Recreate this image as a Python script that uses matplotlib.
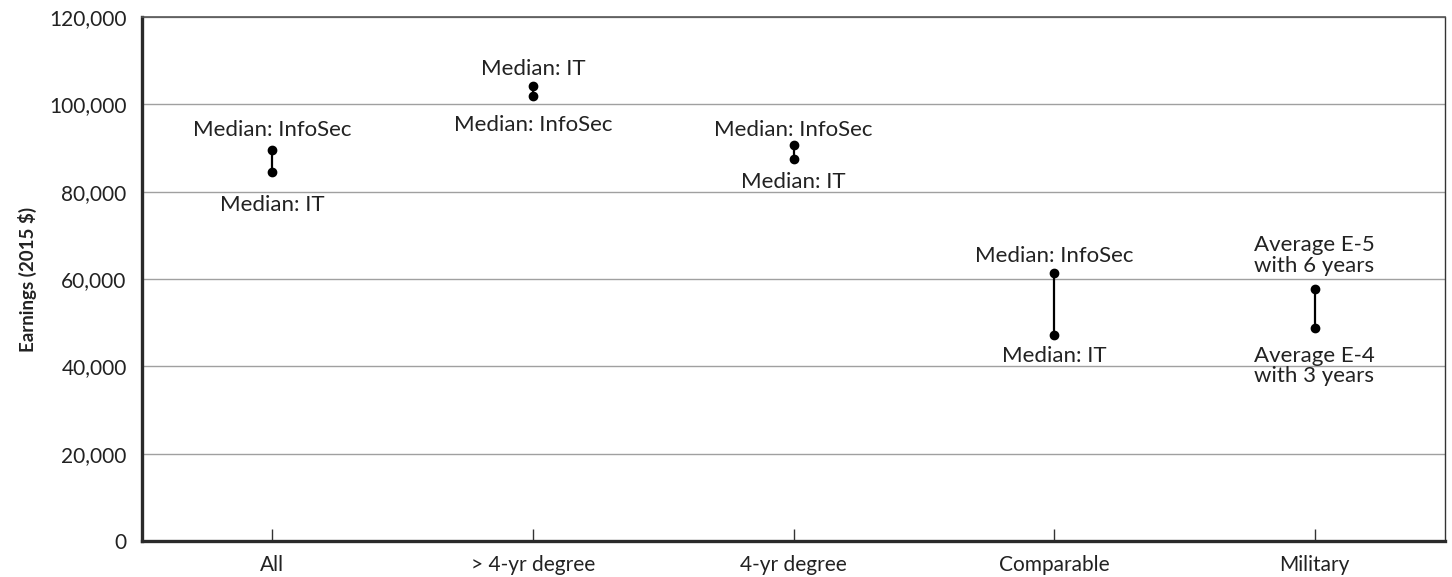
import matplotlib
matplotlib.use("Agg")
import matplotlib.pyplot as plt
from matplotlib.ticker import FuncFormatter

cats=["All","> 4-yr degree","4-yr degree","Comparable","Military"]
hi=[89600,104200,90800,61400,57600]
lo=[84500,101900,87500,47100,48800]
hi_lab=["Median: InfoSec","Median: IT","Median: InfoSec","Median: InfoSec","Average E-5\nwith 6 years"]
lo_lab=["Median: IT","Median: InfoSec","Median: IT","Median: IT","Average E-4\nwith 3 years"]
# label offsets in pixels from the dot (layout only)
hi_off=[20,17,15,17,34]
lo_off=[-33,-29,-23,-21,-38]

plt.rcParams["font.family"]=["Lato","DejaVu Sans"]

fig=plt.figure(figsize=(14.52,5.77),dpi=100)
ax=fig.add_axes([142/1452,36/577,1303/1452,524/577])

xs=list(range(len(cats)))
for i in xs:
	ax.plot([i,i],[lo[i],hi[i]],color="black",lw=1.6,zorder=3)
	ax.plot([i,i],[lo[i],hi[i]],ls="none",marker="o",ms=6,color="black",zorder=4)
	ma="center"
	if "\n" in hi_lab[i]:
		ma="left"
	ax.annotate(hi_lab[i],(i,hi[i]),xytext=(0,hi_off[i]),textcoords="offset pixels",
		ha="center",va="center",multialignment=ma,fontsize=16,color="#222222",linespacing=1.05)
	ax.annotate(lo_lab[i],(i,lo[i]),xytext=(0,lo_off[i]),textcoords="offset pixels",
		ha="center",va="center",multialignment=ma,fontsize=16,color="#222222",linespacing=1.05)

ax.set_xlim(-0.5,4.5)
ax.set_ylim(0,120000)
ax.set_yticks(range(0,120001,20000))
ax.yaxis.set_major_formatter(FuncFormatter(lambda v,p:f"{int(v):,}"))
ax.set_xticks(xs)
ax.set_xticklabels(cats)
ax.tick_params(axis="x",direction="in",length=9,width=1,color="#333333",labelsize=15,pad=10,labelcolor="#222222")
ax.tick_params(axis="y",length=0,labelsize=15,pad=11,labelcolor="#222222")
ax.grid(axis="y",color="#a0a0a0",lw=1)
ax.set_axisbelow(True)

ax.spines["left"].set_linewidth(2.4)
ax.spines["bottom"].set_linewidth(2.4)
ax.spines["left"].set_color("#2a2a2a")
ax.spines["bottom"].set_color("#2a2a2a")
ax.spines["top"].set_linewidth(1.2)
ax.spines["top"].set_color("#555555")
ax.spines["right"].set_linewidth(1)
ax.spines["right"].set_color("#333333")

ax.set_ylabel("Earnings (2015 $)",fontsize=13.5,fontweight="bold",color="#222222",labelpad=9)

fig.savefig("out.png",dpi=100)
